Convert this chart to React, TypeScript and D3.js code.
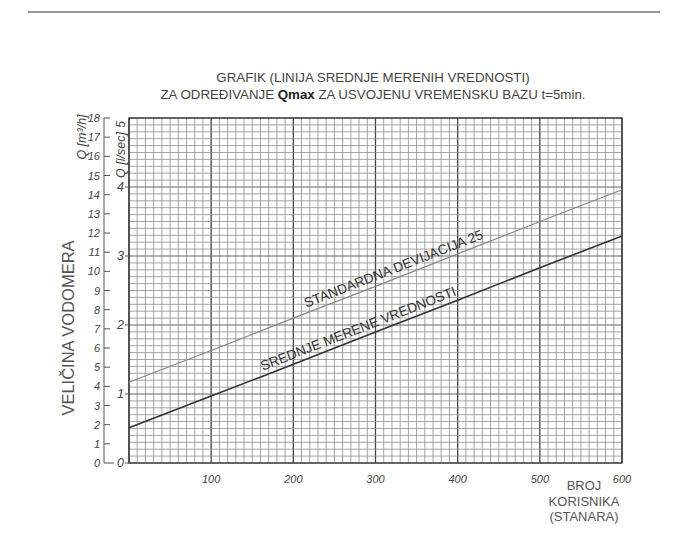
import * as d3 from "d3";

// broj korisnika (stanara)
const users = [0, 100, 200, 300, 400, 500, 600];
// Q [l/sec]
const meanFlow = [0.51, 0.97, 1.43, 1.9, 2.36, 2.83, 3.29];
const sdFlow = [1.17, 1.63, 2.1, 2.56, 3.03, 3.5, 3.96];

const xTicks = [100, 200, 300, 400, 500, 600];
const lsTicks = [0, 1, 2, 3, 4];
const m3hTicks = [0, 1, 2, 3, 4, 5, 6, 7, 8, 9, 10, 11, 12, 13, 14, 15, 16, 17, 18];

const W = 687;
const H = 539;
const FONT = "'Liberation Sans', Arial, sans-serif";

export default function App() {
  const x = d3.scaleLinear().domain([0, 600]).range([129, 622]);
  const yLs = d3.scaleLinear().domain([0, 5]).range([463, 118]);
  const yM3h = d3.scaleLinear().domain([0, 18]).range([463, 118]);

  const minorX = d3.range(0, 601, 10);
  const minorY = d3.range(0, 50.5, 1).map((d) => d / 10);

  const line = d3
    .line<number>()
    .x((_, i) => x(users[i]))
    .y((d) => yLs(d));

  const angleOf = (vals: number[]) => {
    const dx = x(users[users.length - 1]) - x(users[0]);
    const dy = yLs(vals[vals.length - 1]) - yLs(vals[0]);
    return (Math.atan2(dy, dx) * 180) / Math.PI;
  };
  const at = (vals: number[], u: number) =>
    yLs(d3.scaleLinear().domain(users).range(vals)(u));

  const sdAngle = angleOf(sdFlow);
  const meanAngle = angleOf(meanFlow);

  return (
    <svg
      width={W}
      height={H}
      style={{ position: "absolute", left: 0, top: 0, background: "#fff" }}
      fontFamily={FONT}
    >
      <line x1={28} x2={660} y1={12} y2={12} stroke="#333" strokeWidth={1} />

      {/* title */}
      <text x={373} y={82} textAnchor="middle" fontSize={13.3} fill="#444">
        GRAFIK (LINIJA SREDNJE MERENIH VREDNOSTI)
      </text>
      <text x={373} y={99} textAnchor="middle" fontSize={13.3} fill="#444">
        ZA ODREĐIVANJE <tspan fontWeight="bold" fill="#222">Qmax</tspan> ZA
        USVOJENU VREMENSKU BAZU t=5min.
      </text>

      {/* grid */}
      <g>
        {minorX.map((v) => (
          <line
            key={"gx" + v}
            x1={x(v)}
            x2={x(v)}
            y1={yLs(0)}
            y2={yLs(5)}
            stroke={v % 100 === 0 ? "#444" : "#8e8e8e"}
            strokeWidth={v % 100 === 0 ? 1.3 : 0.8}
          />
        ))}
        {minorY.map((v, i) => (
          <line
            key={"gy" + i}
            x1={x(0)}
            x2={x(600)}
            y1={yLs(v)}
            y2={yLs(v)}
            stroke={i % 10 === 0 ? "#666" : "#8e8e8e"}
            strokeWidth={i % 10 === 0 ? 1 : 0.8}
          />
        ))}
        <rect
          x={x(0)}
          y={yLs(5)}
          width={x(600) - x(0)}
          height={yLs(0) - yLs(5)}
          fill="none"
          stroke="#333"
          strokeWidth={1.2}
        />
      </g>

      {/* curves */}
      <path d={line(sdFlow) ?? ""} fill="none" stroke="#888" strokeWidth={1.2} />
      <path d={line(meanFlow) ?? ""} fill="none" stroke="#333" strokeWidth={1.6} />

      <text
        transform={`translate(${x(218)},${at(sdFlow, 218)}) rotate(${sdAngle})`}
        dy={-5}
        fontSize={13.6}
        fill="#333"
      >
        STANDARDNA DEVIJACIJA 25
      </text>
      <text
        transform={`translate(${x(165)},${at(meanFlow, 165)}) rotate(${meanAngle})`}
        dy={-5}
        fontSize={13.6}
        fill="#333"
      >
        SREDNJE MERENE VREDNOSTI
      </text>

      {/* m3/h axis */}
      <line x1={104} x2={104} y1={yM3h(18)} y2={yM3h(0)} stroke="#555" strokeWidth={1} />
      {m3hTicks.map((t) => (
        <g key={"m" + t}>
          <line
            x1={104}
            x2={t === 0 ? 114 : 110}
            y1={yM3h(t)}
            y2={yM3h(t)}
            stroke="#555"
            strokeWidth={1}
          />
          <text
            x={100}
            y={yM3h(t) + 4}
            textAnchor="end"
            fontSize={11}
            fontStyle="italic"
            fill="#444"
          >
            {t}
          </text>
        </g>
      ))}
      <text
        transform="translate(86,137) rotate(-90)"
        textAnchor="middle"
        fontSize={12.5}
        fontStyle="italic"
        fill="#444"
      >
        Q [m³/h]
      </text>

      {/* l/sec axis */}
      {lsTicks.map((t) => (
        <g key={"l" + t}>
          <line x1={125} x2={129} y1={yLs(t)} y2={yLs(t)} stroke="#555" />
          <text
            x={124}
            y={yLs(t) + 4}
            textAnchor="end"
            fontSize={12.5}
            fontStyle="italic"
            fill="#444"
          >
            {t}
          </text>
        </g>
      ))}
      <text
        transform={`translate(125,${yLs(5) + 3}) rotate(-90)`}
        textAnchor="end"
        fontSize={12}
        fontStyle="italic"
        fill="#444"
      >
        5
      </text>
      <text
        transform="translate(125,155) rotate(-90)"
        textAnchor="middle"
        fontSize={12.5}
        fontStyle="italic"
        fill="#444"
      >
        Q [l/sec]
      </text>

      <text
        transform="translate(74,328) rotate(-90)"
        textAnchor="middle"
        fontSize={16.5}
        fill="#555"
      >
        VELIČINA VODOMERA
      </text>

      {/* x axis labels */}
      {xTicks.map((t) => (
        <text
          key={"x" + t}
          x={x(t)}
          y={483}
          textAnchor="middle"
          fontSize={11}
          fontStyle="italic"
          fill="#444"
        >
          {t}
        </text>
      ))}
      <g fontSize={13} fill="#555" textAnchor="middle">
        <text x={584} y={490}>BROJ</text>
        <text x={584} y={506}>KORISNIKA</text>
        <text x={584} y={521}>(STANARA)</text>
      </g>
    </svg>
  );
}
